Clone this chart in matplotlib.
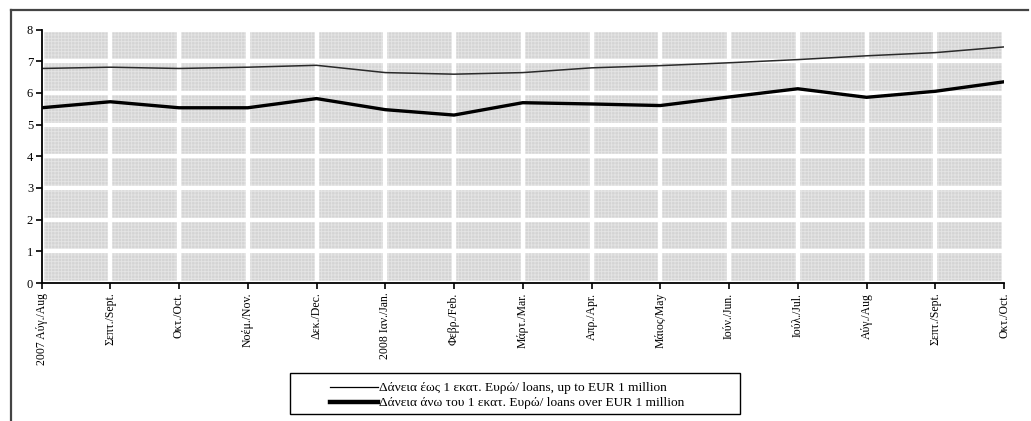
import numpy as np
import matplotlib
matplotlib.use("Agg")
import matplotlib.pyplot as plt
from matplotlib.patches import Rectangle
from matplotlib.lines import Line2D

plt.rcParams['font.family'] = ['Liberation Serif', 'DejaVu Serif']
plt.rcParams['hatch.linewidth'] = 0.6

# Μήνες (Αύγ. 2007 - Οκτ. 2008)
months = ["2007 Αύγ./Aug", "Σεπτ./Sept.", "Οκτ./Oct.", "Νοέμ./Nov.", "Δεκ./Dec.",
          "2008 Ιαν./Jan.", "Φεβρ./Feb.", "Μάρτ./Mar.", "Απρ./Apr.", "Μάιος/May",
          "Ιούν./Jun.", "Ιούλ./Jul.", "Αύγ./Aug", "Σεπτ./Sept.", "Οκτ./Oct."]

# Επιτόκια (%)
loans_up_to_1m = [6.77, 6.81, 6.77, 6.81, 6.87, 6.64, 6.59, 6.64, 6.79, 6.86,
                  6.95, 7.05, 7.17, 7.27, 7.45]
loans_over_1m = [5.53, 5.72, 5.53, 5.53, 5.82, 5.47, 5.30, 5.69, 5.65, 5.60,
                 5.87, 6.13, 5.86, 6.05, 6.35]

label_up = "Δάνεια έως 1 εκατ. Ευρώ/ loans, up to EUR 1 million"
label_over = "Δάνεια άνω του 1 εκατ. Ευρώ/ loans over EUR 1 million"

W, H = 1031, 421
fig = plt.figure(figsize=(W / 100, H / 100), dpi=100)
ax = fig.add_axes([41.5 / W, 1 - 283 / H, (1004 - 41.5) / W, (283 - 29.5) / H])

x = np.arange(len(months))

# γκρι φόντο με διάστικτη υφή
ax.patch.set_visible(False)
ax.add_patch(Rectangle((0, 0), 1, 1, transform=ax.transAxes, facecolor='#d4d4d4',
                       edgecolor='#e4e4e4', hatch='+++++', lw=0, zorder=0))

ax.plot(x, loans_up_to_1m, color='#2a2a2a', lw=1.1, zorder=3, label=label_up)
ax.plot(x, loans_over_1m, color='black', lw=2.4, zorder=3, label=label_over)

ax.set_xlim(0, len(months) - 1)
ax.set_ylim(0, 8)
ax.set_yticks(range(0, 9))
ax.set_xticks(x)
ax.set_xticklabels(months, rotation=90, fontsize=8.5)
ax.tick_params(axis='y', labelsize=9, length=4, width=1.2, direction='out', pad=2)
ax.tick_params(axis='x', length=4, width=1.2, direction='out', pad=3)

ax.grid(True, color='white', lw=3.2, zorder=1)
ax.set_axisbelow(True)

for s in ['top', 'right']:
    ax.spines[s].set_visible(False)
for s in ['left', 'bottom']:
    ax.spines[s].set_linewidth(1.3)
    ax.spines[s].set_zorder(4)

# υπόμνημα με πλαίσιο
handles = [Line2D([], [], color='black', lw=0.9), Line2D([], [], color='black', lw=3.2)]
fig.legend(handles, [label_up, label_over], loc='center', frameon=False,
           bbox_to_anchor=(507 / W, 1 - 395.5 / H), fontsize=9.6, handlelength=3.6,
           handletextpad=0.05, labelspacing=0.2)
fig.add_artist(Rectangle((290 / W, 1 - 414 / H), 450 / W, 41 / H, transform=fig.transFigure,
                         fill=False, edgecolor='black', lw=1.0))

# εξωτερικό πλαίσιο
fig.add_artist(Line2D([11 / W, 11 / W], [0, 1 - 10 / H], transform=fig.transFigure,
                      color='#444444', lw=1.6))
fig.add_artist(Line2D([11 / W, 1028 / W], [1 - 10 / H, 1 - 10 / H], transform=fig.transFigure,
                      color='#444444', lw=1.6))

fig.savefig("out.png", dpi=100)
